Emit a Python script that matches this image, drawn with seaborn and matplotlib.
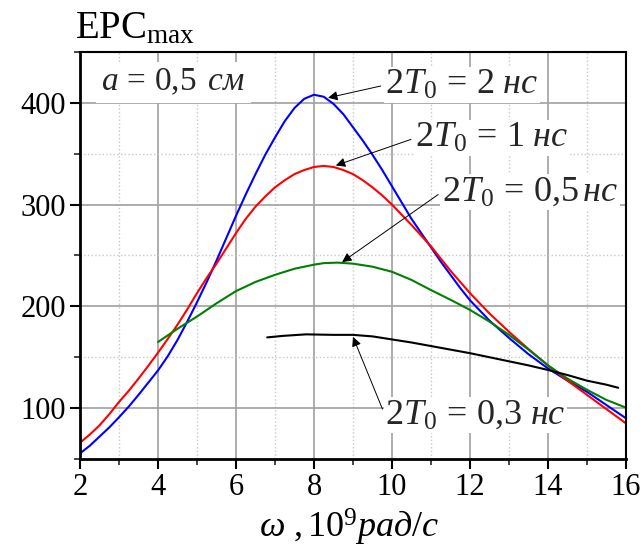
import numpy as np
import pandas as pd
import seaborn as sns
import matplotlib
matplotlib.use("Agg")
import matplotlib.pyplot as plt
from matplotlib.ticker import MultipleLocator

# ---- data ----
x_2ns = [2, 2.25, 2.5, 2.75, 3, 3.25, 3.5, 3.75, 4, 4.25, 4.5, 4.75, 5, 5.25, 5.5, 5.75,
         6, 6.25, 6.5, 6.75, 7, 7.25, 7.5, 7.75, 8, 8.25, 8.5, 8.75, 9, 9.25, 9.5, 9.75,
         10, 10.25, 10.5, 10.75, 11, 11.25, 11.5, 11.75, 12, 12.5, 13, 13.5, 14, 14.5,
         15, 15.5, 16]
y_2ns = [55.5, 63, 72, 81, 91, 101.5, 113, 125, 137, 151, 167, 185, 204, 224, 245, 267,
         289, 310, 330, 349, 366, 382, 395, 404, 408, 406, 399, 389, 376, 363, 349, 334,
         318, 302, 286, 272, 258, 244, 231, 218, 206, 186, 169, 153, 139, 127,
         116, 103, 90]

x_1ns = [2, 2.25, 2.5, 2.75, 3, 3.25, 3.5, 3.75, 4, 4.25, 4.5, 4.75, 5, 5.25, 5.5, 5.75,
         6, 6.25, 6.5, 6.75, 7, 7.25, 7.5, 7.75, 8, 8.25, 8.5, 8.75, 9, 9.25, 9.5, 9.75,
         10, 10.25, 10.5, 10.75, 11, 11.25, 11.5, 11.75, 12, 12.5, 13, 13.5, 14, 14.5,
         15, 15.5, 16]
y_1ns = [66, 74, 83, 94, 106, 117, 129, 141.5, 154.5, 168, 182, 197, 213, 228, 242, 257,
         272, 286, 298, 308, 317, 324, 330, 334, 337, 338, 337, 334, 330, 324, 317, 309,
         300, 290, 280, 269.5, 259, 247, 235, 224, 213, 193, 175, 158, 142, 127,
         113, 99, 85]

x_05ns = [4, 4.5, 5, 5.5, 6, 6.5, 7, 7.5, 8, 8.25, 8.6, 9, 9.5, 10, 10.5, 11, 11.5, 12,
          12.5, 13, 13.5, 14, 14.5, 15, 15.5, 16]
y_05ns = [165, 178, 190, 203, 215, 224, 231, 237, 241, 242.5, 243, 242, 239, 234, 226,
          216, 206.5, 196.5, 185, 172, 157.5, 142, 129, 118, 108, 100.5]

x_03ns = [6.8, 7.2, 7.8, 8.5, 9, 9.5, 10, 10.5, 11, 11.5, 12, 12.5, 13, 13.5, 14, 14.5,
          15, 15.5, 15.8]
y_03ns = [169.5, 171, 172.5, 172, 172, 170.5, 167.5, 164.5, 161, 157.5, 154, 150, 146, 142,
          137.5, 132.5, 127, 123, 120]

series = ["2 нс", "1 нс", "0,5 нс", "0,3 нс"]
colors = ["#0000ff", "#ff0000", "#008000", "#000000"]
labels = [r"$2T_0\,=\,2\ \mathit{нс}$", r"$2T_0\,=\,1\ \mathit{нс}$",
          r"$2T_0\,=\,0{,}5\,\mathit{нс}$", r"$2T_0\,=\,0{,}3\ \mathit{нс}$"]
xticks = [2, 4, 6, 8, 10, 12, 14, 16]
yticks = [100, 200, 300, 400]

df = pd.concat([
    pd.DataFrame({"w": x_2ns, "E": y_2ns, "s": series[0]}),
    pd.DataFrame({"w": x_1ns, "E": y_1ns, "s": series[1]}),
    pd.DataFrame({"w": x_05ns, "E": y_05ns, "s": series[2]}),
    pd.DataFrame({"w": x_03ns, "E": y_03ns, "s": series[3]}),
], ignore_index=True)

sns.set_theme(style="white")
plt.rcParams["font.family"] = "serif"
plt.rcParams["font.serif"] = ["Liberation Serif", "DejaVu Serif"]
plt.rcParams["mathtext.fontset"] = "custom"
plt.rcParams["mathtext.rm"] = "Liberation Serif"
plt.rcParams["mathtext.it"] = "Liberation Serif:italic"
plt.rcParams["mathtext.bf"] = "Liberation Serif:bold"

fig = plt.figure(figsize=(6.44, 5.49), dpi=100)
ax = fig.add_axes([80 / 644, 1 - 459 / 549, (626 - 80) / 644, (459 - 52) / 549])

sns.lineplot(data=df, x="w", y="E", hue="s", hue_order=series,
             palette=dict(zip(series, colors)), sort=False, estimator=None,
             legend=False, lw=1.5, ax=ax)

ax.set_xlim(2, 16)
ax.set_ylim(50, 450)
ax.set_xticks(xticks)
ax.set_yticks(yticks)
ax.xaxis.set_minor_locator(MultipleLocator(1))
ax.yaxis.set_minor_locator(MultipleLocator(50))
ax.grid(True, which="major", color="#a0a0a0", lw=1.2, ls="-")
ax.grid(True, which="minor", color="#c8c8c8", lw=1.0, ls=":")
ax.set_axisbelow(True)
ax.tick_params(axis="both", which="major", direction="out", length=7, width=1.5,
               labelsize=22, colors="black", pad=3, bottom=True, left=True)
ax.tick_params(axis="both", which="minor", direction="out", length=4, width=1.2,
               bottom=True, left=True)
for side in ["left", "bottom"]:
    ax.spines[side].set_linewidth(2.0)
for side in ["top", "right"]:
    ax.spines[side].set_linewidth(1.5)
for sp in ax.spines.values():
    sp.set_color("black")
ax.set_xlabel("")
ax.set_ylabel("")

# axis titles
fig.text(75 / 644, 1 - 38 / 549, r"ЕРС$_{\mathrm{max}}$", fontsize=28, ha="left",
         va="baseline", color="black")
fig.text(349 / 644, 1 - 538 / 549, r"$\omega\ ,10^{9}\mathit{рад/с}$", fontsize=26,
         ha="center", va="baseline", color="black")

# parameter box
ax.text(2.55, 420, r"$a\,=\,0{,}5\ \,\mathit{см}$", fontsize=24, ha="left", va="center",
        bbox=dict(fc="white", ec="none", pad=4), zorder=5)

# annotations
tips = [(8.36, 405), (8.56, 338.5), (8.72, 243.5), (9.0, 170)]
texts = [(9.82, 417.5), (10.59, 365.5), (11.28, 312.5), (9.82, 93)]
for lab, tip, txt in zip(labels, tips, texts):
    ax.annotate(lab, xy=tip, xytext=txt, fontsize=26, ha="left", va="center",
                bbox=dict(fc="white", ec="none", pad=1),
                arrowprops=dict(arrowstyle="-|>", color="black", lw=0.7,
                                mutation_scale=14, relpos=(0, 0.5),
                                shrinkA=2, shrinkB=0),
                zorder=6)

fig.savefig("out.png", dpi=100)
